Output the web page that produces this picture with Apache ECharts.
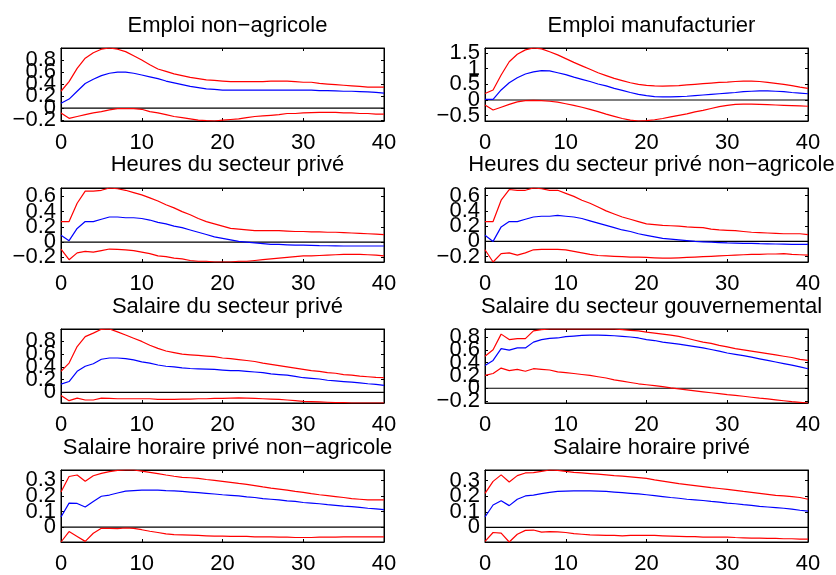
<!DOCTYPE html>
<html>
<head>
<meta charset="utf-8">
<script src="https://cdn.jsdelivr.net/npm/echarts@6/dist/echarts.min.js"></script>
<style>
html,body{margin:0;padding:0;background:#fff;}
#chart{width:836px;height:575px;}
</style>
</head>
<body>
<div id="chart"></div>
<script>
// Horizon (quarters)
const horizon = [0,1,2,3,4,5,6,7,8,9,10,11,12,13,14,15,16,17,18,19,20,21,22,23,24,25,26,27,28,29,30,31,32,33,34,35,36,37,38,39,40];
const xTicks = [0,10,20,30,40];

const titles = [
  "Emploi non\u2212agricole",
  "Emploi manufacturier",
  "Heures du secteur priv\u00e9",
  "Heures du secteur priv\u00e9 non\u2212agricole",
  "Salaire du secteur priv\u00e9",
  "Salaire du secteur gouvernemental",
  "Salaire horaire priv\u00e9 non\u2212agricole",
  "Salaire horaire priv\u00e9"
];

// y tick values per panel
const yTicks1 = [-0.2,0,0.2,0.4,0.6,0.8];
const yTicks2 = [-0.5,0,0.5,1,1.5];
const yTicks3 = [-0.2,0,0.2,0.4,0.6];
const yTicks4 = [-0.2,0,0.2,0.4,0.6];
const yTicks5 = [0,0.2,0.4,0.6,0.8];
const yTicks6 = [-0.2,0,0.2,0.4,0.6,0.8];
const yTicks7 = [0,0.1,0.2,0.3];
const yTicks8 = [0,0.1,0.2,0.3];

// Panel 1: Emploi non-agricole
const up1 = [0.28,0.44,0.66,0.83,0.92,0.98,1.0,0.98,0.94,0.87,0.80,0.72,0.65,0.61,0.57,0.54,0.51,0.49,0.47,0.46,0.45,0.44,0.44,0.44,0.44,0.44,0.45,0.45,0.45,0.44,0.43,0.43,0.41,0.40,0.39,0.38,0.37,0.36,0.35,0.35,0.35];
const med1 = [0.08,0.15,0.28,0.41,0.48,0.54,0.58,0.60,0.60,0.58,0.55,0.52,0.49,0.45,0.42,0.39,0.36,0.34,0.32,0.31,0.30,0.30,0.30,0.30,0.30,0.30,0.30,0.30,0.30,0.30,0.30,0.30,0.29,0.29,0.285,0.28,0.28,0.275,0.27,0.26,0.25];
const lo1 = [-0.08,-0.17,-0.14,-0.11,-0.08,-0.06,-0.03,-0.01,-0.01,-0.01,-0.02,-0.06,-0.08,-0.11,-0.14,-0.16,-0.18,-0.20,-0.21,-0.215,-0.20,-0.19,-0.18,-0.16,-0.14,-0.13,-0.12,-0.11,-0.09,-0.09,-0.08,-0.075,-0.07,-0.07,-0.07,-0.08,-0.08,-0.09,-0.09,-0.10,-0.10];

// Panel 2: Emploi manufacturier
const up2 = [0.21,0.32,0.80,1.22,1.46,1.60,1.66,1.63,1.54,1.44,1.32,1.20,1.09,0.98,0.87,0.78,0.69,0.62,0.55,0.50,0.47,0.45,0.44,0.45,0.46,0.48,0.50,0.52,0.54,0.56,0.57,0.59,0.60,0.60,0.59,0.56,0.53,0.50,0.46,0.41,0.37];
const med2 = [0.02,0.02,0.32,0.55,0.71,0.83,0.90,0.94,0.93,0.87,0.81,0.73,0.66,0.59,0.51,0.45,0.37,0.31,0.24,0.18,0.14,0.11,0.10,0.10,0.11,0.12,0.14,0.16,0.18,0.20,0.22,0.24,0.27,0.28,0.29,0.29,0.28,0.27,0.24,0.22,0.20];
const lo2 = [-0.16,-0.32,-0.23,-0.14,-0.06,-0.02,-0.01,-0.02,-0.04,-0.07,-0.12,-0.17,-0.23,-0.30,-0.37,-0.45,-0.52,-0.59,-0.64,-0.67,-0.66,-0.63,-0.59,-0.54,-0.49,-0.44,-0.38,-0.33,-0.27,-0.21,-0.17,-0.14,-0.13,-0.13,-0.14,-0.15,-0.16,-0.17,-0.18,-0.19,-0.20];

// Panel 3: Heures du secteur prive
const up3 = [0.27,0.27,0.51,0.67,0.67,0.68,0.71,0.70,0.68,0.65,0.62,0.58,0.54,0.49,0.45,0.40,0.36,0.31,0.27,0.24,0.21,0.18,0.17,0.16,0.15,0.15,0.15,0.15,0.145,0.14,0.14,0.135,0.135,0.13,0.13,0.125,0.12,0.115,0.11,0.105,0.10];
const med3 = [0.09,0.02,0.18,0.27,0.27,0.30,0.33,0.33,0.32,0.32,0.31,0.29,0.26,0.24,0.21,0.19,0.16,0.13,0.10,0.07,0.05,0.03,0.01,0.0,-0.01,-0.02,-0.03,-0.03,-0.035,-0.04,-0.04,-0.042,-0.045,-0.047,-0.048,-0.05,-0.05,-0.05,-0.05,-0.05,-0.05];
const lo3 = [-0.09,-0.23,-0.14,-0.12,-0.13,-0.11,-0.09,-0.095,-0.10,-0.11,-0.13,-0.15,-0.18,-0.19,-0.21,-0.22,-0.24,-0.25,-0.25,-0.26,-0.26,-0.26,-0.25,-0.25,-0.24,-0.23,-0.22,-0.21,-0.20,-0.19,-0.18,-0.18,-0.175,-0.17,-0.165,-0.16,-0.16,-0.16,-0.165,-0.17,-0.18];

// Panel 4: Heures du secteur prive non-agricole
const up4 = [0.26,0.26,0.54,0.68,0.67,0.67,0.70,0.69,0.67,0.67,0.63,0.59,0.54,0.50,0.45,0.40,0.36,0.32,0.29,0.26,0.23,0.22,0.21,0.205,0.20,0.19,0.185,0.18,0.16,0.15,0.145,0.14,0.13,0.12,0.115,0.11,0.105,0.10,0.10,0.10,0.09];
const med4 = [0.08,0.0,0.19,0.26,0.26,0.29,0.32,0.33,0.33,0.34,0.33,0.32,0.30,0.27,0.24,0.21,0.18,0.15,0.13,0.10,0.08,0.06,0.04,0.03,0.02,0.01,0.0,-0.005,-0.01,-0.015,-0.02,-0.022,-0.025,-0.027,-0.03,-0.032,-0.034,-0.036,-0.04,-0.04,-0.04];
const lo4 = [-0.11,-0.27,-0.16,-0.15,-0.18,-0.15,-0.11,-0.105,-0.105,-0.105,-0.11,-0.13,-0.15,-0.17,-0.185,-0.19,-0.195,-0.20,-0.205,-0.205,-0.21,-0.215,-0.22,-0.22,-0.215,-0.21,-0.205,-0.20,-0.195,-0.19,-0.185,-0.18,-0.175,-0.17,-0.17,-0.165,-0.165,-0.16,-0.17,-0.175,-0.18];

// Panel 5: Salaire du secteur prive
const up5 = [0.33,0.46,0.72,0.875,0.93,0.99,0.995,0.95,0.90,0.85,0.80,0.74,0.69,0.65,0.625,0.60,0.59,0.58,0.57,0.56,0.54,0.53,0.515,0.50,0.485,0.46,0.44,0.42,0.40,0.38,0.36,0.34,0.33,0.31,0.30,0.28,0.27,0.255,0.245,0.235,0.23];
const med5 = [0.13,0.17,0.33,0.41,0.45,0.52,0.54,0.54,0.53,0.51,0.48,0.46,0.43,0.41,0.40,0.385,0.375,0.37,0.365,0.36,0.35,0.34,0.34,0.33,0.32,0.31,0.29,0.28,0.27,0.25,0.23,0.22,0.21,0.19,0.18,0.17,0.16,0.15,0.135,0.125,0.11];
const lo5 = [-0.05,-0.13,-0.09,-0.12,-0.12,-0.09,-0.095,-0.10,-0.10,-0.10,-0.10,-0.10,-0.11,-0.11,-0.11,-0.105,-0.105,-0.10,-0.10,-0.095,-0.095,-0.09,-0.085,-0.09,-0.095,-0.10,-0.105,-0.11,-0.12,-0.13,-0.14,-0.145,-0.15,-0.155,-0.16,-0.16,-0.167,-0.167,-0.167,-0.167,-0.167];

// Panel 6: Salaire du secteur gouvernemental
const up6 = [0.50,0.60,0.845,0.76,0.775,0.775,0.895,0.915,0.925,0.925,0.925,0.925,0.925,0.925,0.925,0.925,0.925,0.915,0.905,0.895,0.875,0.86,0.845,0.83,0.81,0.78,0.75,0.72,0.70,0.67,0.645,0.62,0.60,0.58,0.56,0.54,0.52,0.50,0.48,0.45,0.435];
const med6 = [0.355,0.435,0.62,0.595,0.63,0.63,0.72,0.76,0.78,0.785,0.805,0.815,0.825,0.83,0.83,0.825,0.82,0.81,0.80,0.785,0.76,0.745,0.72,0.705,0.69,0.67,0.65,0.63,0.605,0.58,0.55,0.53,0.51,0.485,0.46,0.435,0.41,0.385,0.36,0.335,0.305];
const lo6 = [0.20,0.23,0.315,0.275,0.295,0.265,0.305,0.295,0.285,0.255,0.245,0.23,0.215,0.20,0.18,0.16,0.13,0.11,0.09,0.07,0.055,0.04,0.025,0.005,-0.01,-0.025,-0.04,-0.055,-0.07,-0.085,-0.10,-0.11,-0.125,-0.14,-0.155,-0.165,-0.18,-0.195,-0.21,-0.22,-0.23];

// Panel 7: Salaire horaire prive non-agricole
const up7 = [0.225,0.325,0.335,0.295,0.33,0.345,0.356,0.365,0.367,0.367,0.36,0.352,0.344,0.335,0.327,0.32,0.317,0.313,0.306,0.30,0.294,0.2875,0.281,0.275,0.267,0.258,0.25,0.244,0.2375,0.229,0.223,0.215,0.208,0.202,0.196,0.19,0.183,0.179,0.175,0.175,0.175];
const med7 = [0.065,0.154,0.152,0.129,0.165,0.198,0.206,0.219,0.231,0.235,0.2375,0.2375,0.2375,0.235,0.233,0.229,0.225,0.221,0.217,0.2125,0.208,0.204,0.20,0.194,0.19,0.183,0.179,0.175,0.169,0.165,0.158,0.154,0.15,0.144,0.14,0.135,0.131,0.127,0.121,0.117,0.1125];
const lo7 = [-0.096,-0.029,-0.06,-0.092,-0.04,-0.008,-0.008,-0.01,-0.006,-0.008,-0.017,-0.027,-0.035,-0.044,-0.048,-0.05,-0.052,-0.054,-0.056,-0.058,-0.058,-0.06,-0.06,-0.06,-0.0625,-0.0625,-0.0625,-0.065,-0.065,-0.067,-0.067,-0.067,-0.065,-0.065,-0.065,-0.0625,-0.0625,-0.0625,-0.0625,-0.0625,-0.0625];

// Panel 8: Salaire horaire prive
const up8 = [0.219,0.296,0.3375,0.292,0.333,0.35,0.352,0.36,0.369,0.367,0.36,0.354,0.35,0.346,0.342,0.3375,0.333,0.329,0.325,0.32,0.315,0.306,0.298,0.29,0.281,0.275,0.269,0.2625,0.256,0.25,0.244,0.2375,0.231,0.225,0.219,0.2125,0.206,0.202,0.198,0.192,0.181];
const med8 = [0.067,0.144,0.171,0.14,0.181,0.202,0.208,0.217,0.225,0.231,0.233,0.235,0.235,0.235,0.233,0.231,0.227,0.223,0.219,0.215,0.21,0.204,0.198,0.192,0.1875,0.181,0.177,0.173,0.167,0.1625,0.156,0.152,0.146,0.142,0.135,0.131,0.127,0.123,0.117,0.11,0.104];
const lo8 = [-0.09,-0.033,-0.0375,-0.094,-0.044,-0.019,-0.017,-0.031,-0.027,-0.029,-0.033,-0.04,-0.044,-0.048,-0.05,-0.052,-0.052,-0.054,-0.052,-0.052,-0.052,-0.052,-0.054,-0.056,-0.058,-0.06,-0.06,-0.0625,-0.0625,-0.0625,-0.0625,-0.065,-0.067,-0.069,-0.069,-0.071,-0.071,-0.073,-0.073,-0.075,-0.075];

const zeroLine = [0,0];
const zeroX = [0,40];

const panels = [
  {up:up1,med:med1,lo:lo1,ticks:yTicks1},
  {up:up2,med:med2,lo:lo2,ticks:yTicks2},
  {up:up3,med:med3,lo:lo3,ticks:yTicks3},
  {up:up4,med:med4,lo:lo4,ticks:yTicks4},
  {up:up5,med:med5,lo:lo5,ticks:yTicks5},
  {up:up6,med:med6,lo:lo6,ticks:yTicks6},
  {up:up7,med:med7,lo:lo7,ticks:yTicks7},
  {up:up8,med:med8,lo:lo8,ticks:yTicks8}
];

// Layout
const colLeft = [61, 485];
const plotW = 323;
const rowTop = [48, 188, 329, 470];
const rowH = [73, 74, 74, 74];
const titleTop = [10, 149, 291, 432];
const FONT = "'Liberation Sans', Arial, Helvetica, sans-serif";
const FS = 22;
const TFS = 22;

function fmt(v){
  if (v < 0) return '\u2212' + String(Math.abs(v));
  return String(v);
}
function pair(ys){ return horizon.map((x,i)=>[x, ys[i]]); }

const grid=[], xAxis=[], yAxis=[], series=[], title=[];
panels.forEach((p, k) => {
  const r = Math.floor(k/2), c = k%2;
  grid.push({left: colLeft[c], top: rowTop[r], width: plotW, height: rowH[r],
    show: true, borderColor: '#000', borderWidth: 1, backgroundColor: 'transparent'});
  const ymin = Math.min(...p.lo);
  const ymax = Math.max(...p.up);
  const xi = xAxis.length;
  xAxis.push({type:'value', gridIndex:k, min:0, max:40, interval:10, position:'bottom',
    axisLine:{show:true, onZero:false, lineStyle:{color:'#000', width:1}},
    axisTick:{show:true, inside:true, length:3, lineStyle:{color:'#000'}},
    axisLabel:{show:true, margin:11, color:'#000', fontFamily:FONT, fontSize:FS},
    splitLine:{show:false}});
  xAxis.push({type:'value', gridIndex:k, min:0, max:40, interval:10, position:'top',
    axisLine:{show:true, onZero:false, lineStyle:{color:'#000', width:1}},
    axisTick:{show:true, inside:true, length:3, lineStyle:{color:'#000'}},
    axisLabel:{show:false}, splitLine:{show:false}});
  const yi = yAxis.length;
  // main left axis: line + ticks
  yAxis.push({type:'value', gridIndex:k, min:ymin, max:ymax, position:'left',
    axisLine:{show:true, onZero:false, lineStyle:{color:'#000', width:1}},
    axisTick:{show:true, inside:true, length:3, customValues:p.ticks, lineStyle:{color:'#000'}},
    axisLabel:{show:false},
    splitLine:{show:false}});
  // right axis: ticks only
  yAxis.push({type:'value', gridIndex:k, min:ymin, max:ymax, position:'right',
    axisLine:{show:true, onZero:false, lineStyle:{color:'#000', width:1}},
    axisTick:{show:true, inside:true, length:3, customValues:p.ticks, lineStyle:{color:'#000'}},
    axisLabel:{show:false}, splitLine:{show:false}});
  // one label-only axis per tick value so overlapping labels all stay visible (as in the original)
  p.ticks.forEach(v => {
    yAxis.push({type:'value', gridIndex:k, min:ymin, max:ymax, position:'left', offset:0,
      axisLine:{show:false}, axisTick:{show:false}, splitLine:{show:false},
      axisLabel:{show:true, margin:5, color:'#000', fontFamily:FONT, fontSize:FS,
        customValues:[v], formatter:fmt}});
  });
  series.push({type:'line', xAxisIndex:xi, yAxisIndex:yi, data: zeroX.map((x,i)=>[x, zeroLine[i]]),
    symbol:'none', silent:true, lineStyle:{color:'#000', width:1.2}, animation:false});
  series.push({type:'line', xAxisIndex:xi, yAxisIndex:yi, data: pair(p.up),
    symbol:'none', lineStyle:{color:'#ff0000', width:1.2}, animation:false});
  series.push({type:'line', xAxisIndex:xi, yAxisIndex:yi, data: pair(p.med),
    symbol:'none', lineStyle:{color:'#0000ff', width:1.2}, animation:false});
  series.push({type:'line', xAxisIndex:xi, yAxisIndex:yi, data: pair(p.lo),
    symbol:'none', lineStyle:{color:'#ff0000', width:1.2}, animation:false});
  title.push({text: titles[k], left: colLeft[c] + plotW/2, top: titleTop[r], textAlign:'center',
    textStyle:{fontFamily:FONT, fontSize:TFS, fontWeight:'normal', color:'#000'}});
});

const chart = echarts.init(document.getElementById('chart'), null, {renderer:'canvas'});
chart.setOption({
  animation:false,
  backgroundColor:'#fff',
  title, grid, xAxis, yAxis, series
});
</script>
</body>
</html>
